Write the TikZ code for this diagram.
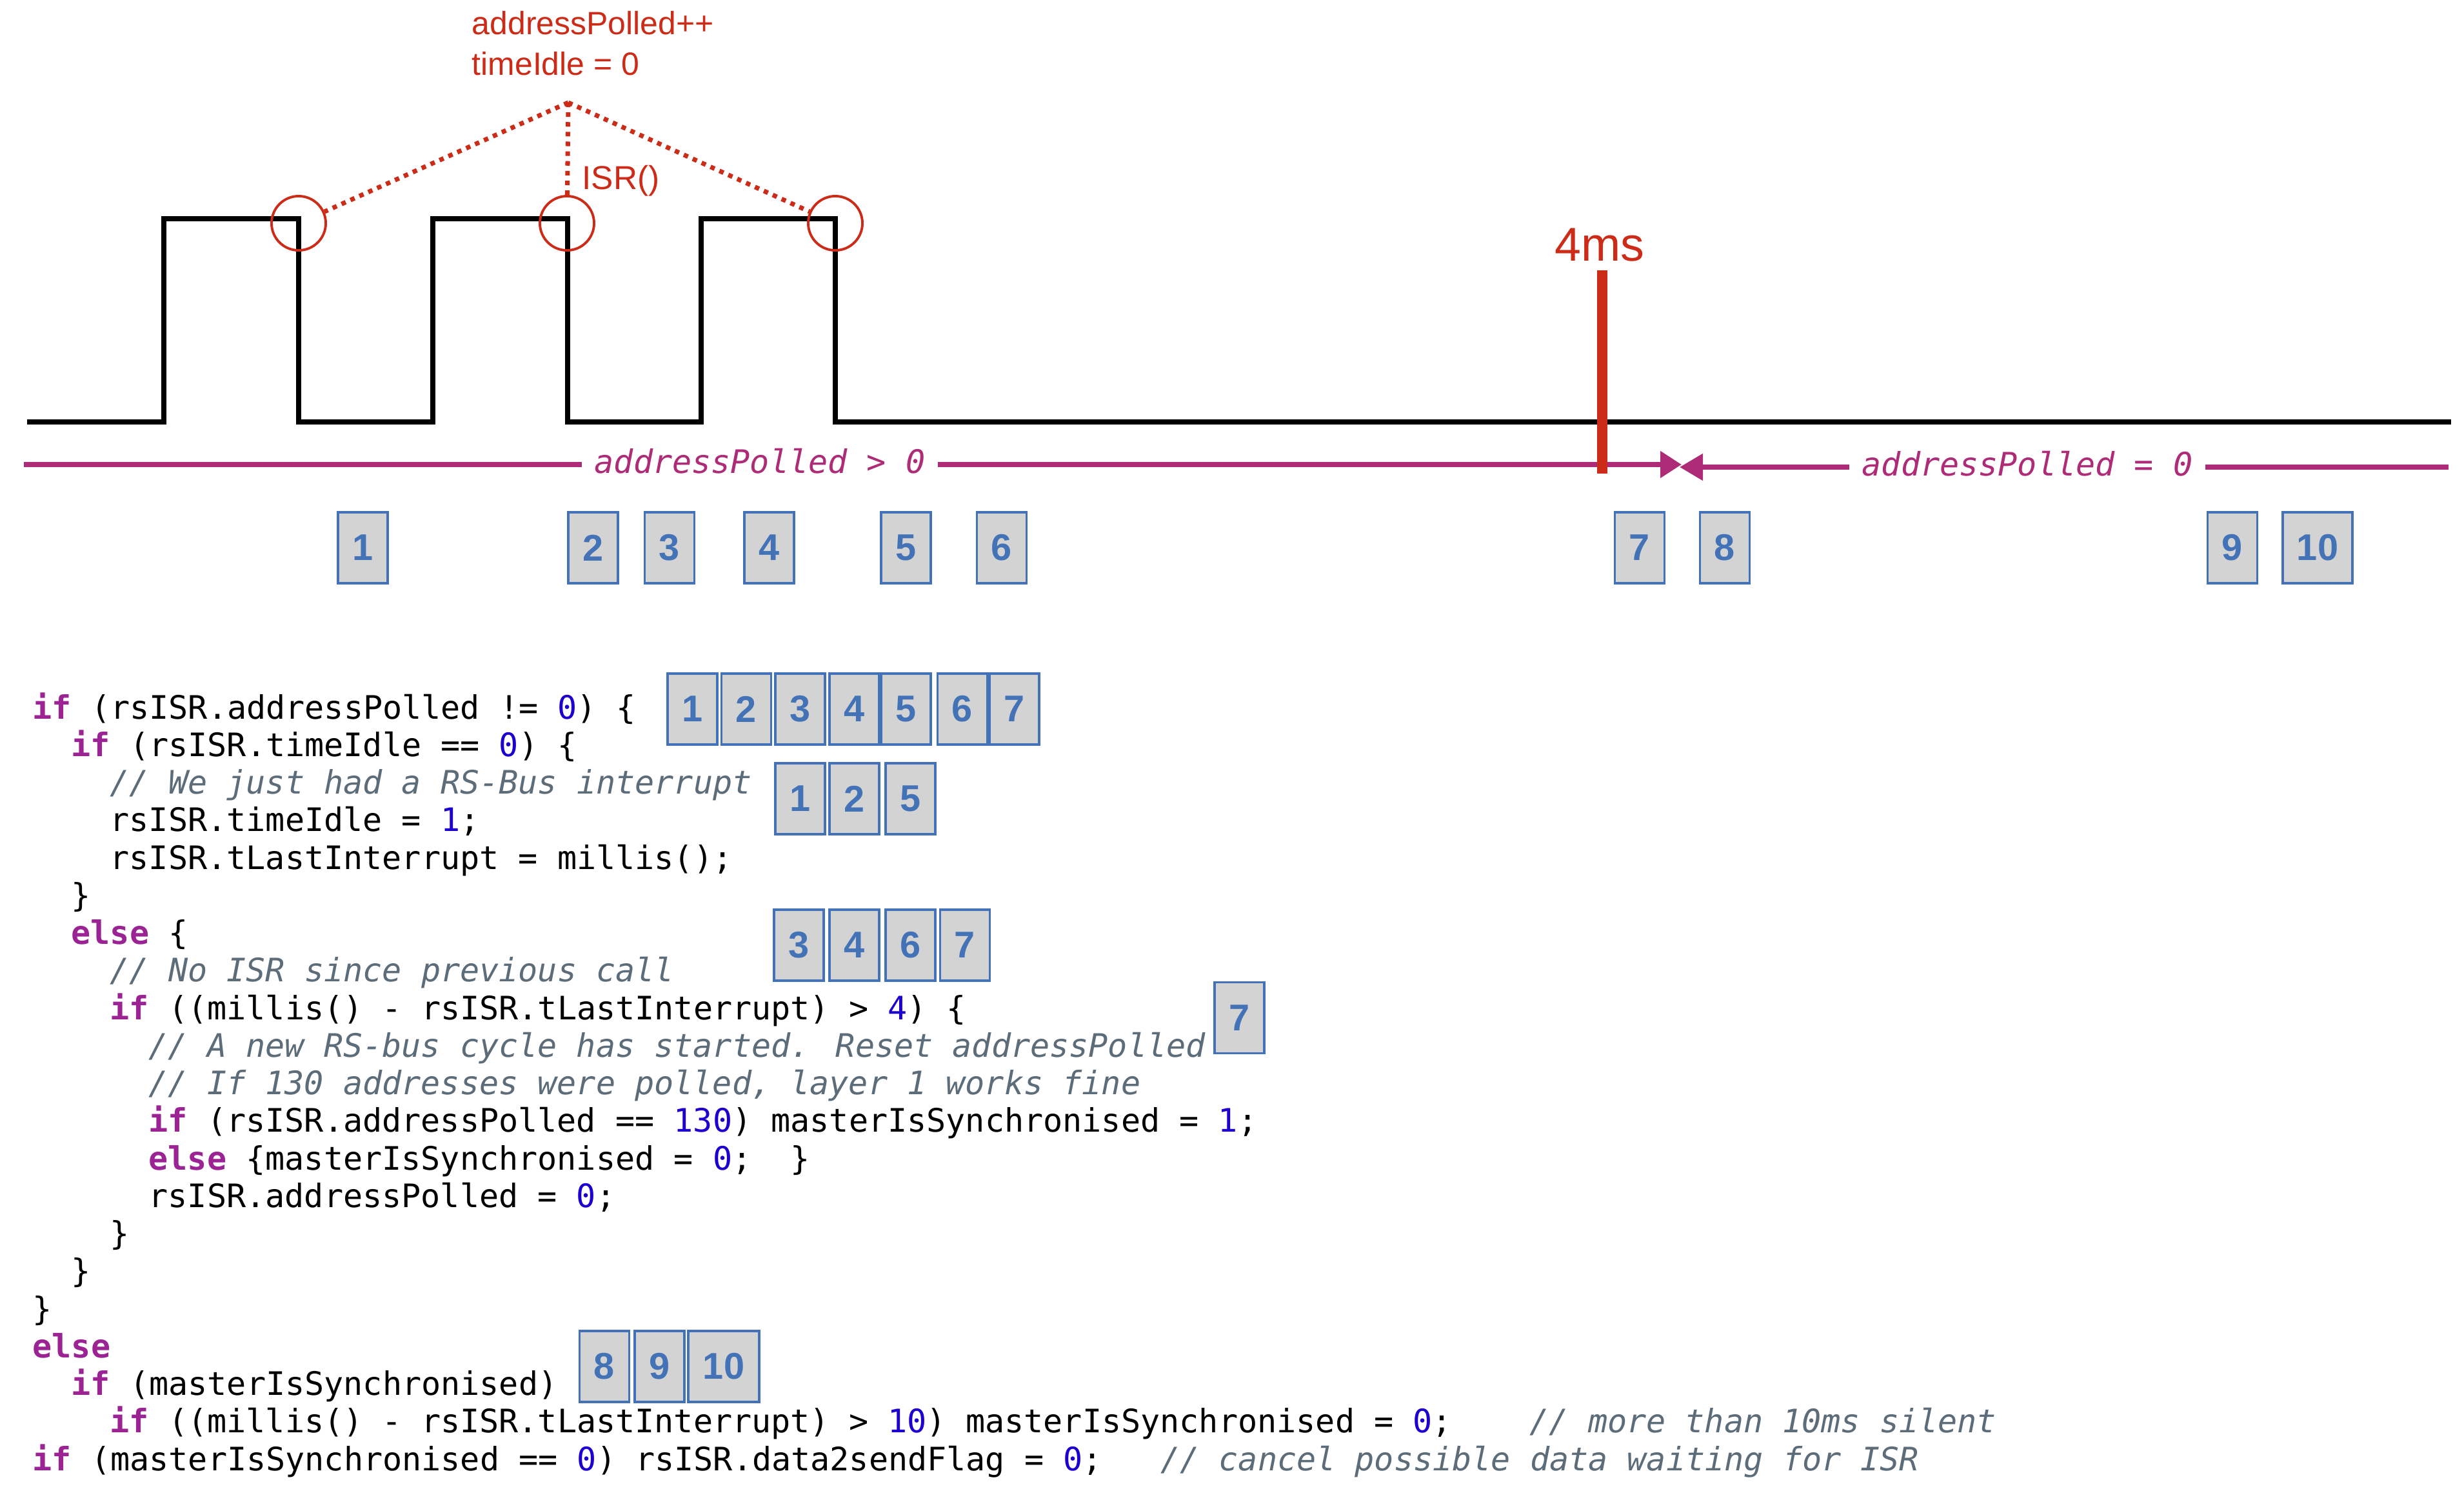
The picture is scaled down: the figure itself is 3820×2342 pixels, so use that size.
\documentclass[tikz,border=0pt]{standalone}
\usepackage{fontspec}
\setmainfont{Liberation Sans}
\newfontfamily\codefont{DejaVu Sans Mono}
\usetikzlibrary{arrows.meta}
\definecolor{sigred}{HTML}{CC2B17}
\definecolor{magc}{HTML}{AE2B78}
\definecolor{kwc}{HTML}{9B2393}
\definecolor{numc}{HTML}{1C00CF}
\definecolor{cmc}{HTML}{5D6C79}
\definecolor{boxb}{HTML}{4472B9}
\definecolor{boxf}{HTML}{D3D3D3}
\definecolor{numb}{HTML}{4373B6}
\newcommand\ckw[1]{{\bfseries\color{kwc}#1}}
\newcommand\cnum[1]{{\color{numc}#1}}
\newcommand\ccom[1]{{\itshape\color{cmc}#1}}
\tikzset{
  codeline/.style={anchor=base west, inner sep=0pt, font=\codefont\fontsize{14.24pt}{17pt}\selectfont},
  nbox/.style={draw=boxb, line width=1.1pt, fill=boxf, text=numb, font=\bfseries\fontsize{16.4pt}{16pt}\selectfont, minimum width=0.77cm, minimum height=1.10cm, inner sep=0pt},
  signal/.style={line width=2.1pt, line cap=rect, line join=miter},
  magline/.style={draw=magc, line width=2.28pt},
  maglabel/.style={anchor=base west, fill=white, inner xsep=0.2cm, inner ysep=1pt, text=magc, font=\codefont\itshape\fontsize{14.24pt}{17pt}\selectfont},
  redlabel/.style={anchor=base west, inner sep=0pt, text=sigred, font=\fontsize{14.2pt}{17pt}\selectfont},
  ring/.style={circle, draw=sigred, line width=1.1pt, minimum size=0.84cm, inner sep=0pt},
  dotline/.style={draw=sigred, line width=2pt, dash pattern=on 2pt off 2.3pt}
}
\begin{document}
\begin{tikzpicture}[x=0.01cm,y=-0.01cm]
\fill[white] (0,0) rectangle (3820,2342);
\useasboundingbox (0,0) rectangle (3820,2342);

% signal trace
\draw[signal] (46,654) -- (254,654) -- (254,339) -- (463,339) -- (463,654)
  -- (671,654) -- (671,339) -- (880,339) -- (880,654)
  -- (1087,654) -- (1087,339) -- (1295,339) -- (1295,654) -- (3796,654);

% ISR circles and dotted connectors
\node[ring] (c1) at (463,346) {};
\node[ring] (c2) at (879,346) {};
\node[ring] (c3) at (1295,346) {};
\coordinate (apex) at (881,159);
\draw[dotline] (apex) -- (c1);
\draw[dotline] (apex) -- (c3);
\draw[dotline] (apex) -- (c2);
\node[redlabel] (t1) at (731,54) {addressPolled++};
\node[redlabel] (t2) at (731,116) {timeIdle = 0};
\node[redlabel, font=\fontsize{14.6pt}{17pt}\selectfont] (isr) at (902,293) {ISR()};

% magenta state lines
\coordinate (mL0) at (37,720);
\coordinate (mL1) at (2607,720);
\coordinate (mR0) at (3796,724);
\coordinate (mR1) at (2604,724);
\draw[magline, -{Triangle[length=0.33cm,width=0.40cm]}] (mL0) -- (mL1);
\draw[magline, -{Triangle[length=0.36cm,width=0.40cm]}] (mR0) -- (mR1);
\node[maglabel] (ml1) at (901,733) {addressPolled > 0};
\node[maglabel] (ml2) at (2866,737) {addressPolled = 0};

% 4ms marker
\coordinate (r0) at (2484,419);
\coordinate (r1) at (2484,734);
\draw[draw=sigred, line width=4.8pt] (r0) -- (r1);
\node[anchor=base, inner sep=0pt, text=sigred, font=\fontsize{20.9pt}{22pt}\selectfont] (ms) at (2480,404) {4ms};

% timeline number boxes
\node[nbox] (b1) at (562.5,849) {1};
\node[nbox] (b2) at (919.5,849) {2};
\node[nbox] (b3) at (1038,849) {3};
\node[nbox] (b4) at (1192.5,849) {4};
\node[nbox] (b5) at (1404.5,849) {5};
\node[nbox] (b6) at (1553,849) {6};
\node[nbox] (b7) at (2542,849) {7};
\node[nbox] (b8) at (2674,849) {8};
\node[nbox] (b9) at (3461,849) {9};
\node[nbox, minimum width=1.08cm] (b10) at (3593,849) {10};

% code
\node[codeline] (l0) at (50,1114) {\ckw{if} (rsISR.addressPolled != \cnum{0}) \{};
\node[codeline] (l1) at (110,1172.25) {\ckw{if} (rsISR.timeIdle == \cnum{0}) \{};
\node[codeline] (l2) at (170,1230.5) {\ccom{// We just had a RS-Bus interrupt}};
\node[codeline] (l3) at (170,1288.75) {rsISR.timeIdle = \cnum{1};};
\node[codeline] (l4) at (170,1347) {rsISR.tLastInterrupt = millis();};
\node[codeline] (l5) at (110,1405.25) {\}};
\node[codeline] (l6) at (110,1463.5) {\ckw{else} \{};
\node[codeline] (l7) at (170,1521.75) {\ccom{// No ISR since previous call}};
\node[codeline] (l8) at (170,1580) {\ckw{if} ((millis() - rsISR.tLastInterrupt) > \cnum{4}) \{};
\node[codeline] (l9) at (230,1638.25) {\ccom{// A new RS-bus cycle has started. Reset addressPolled}};
\node[codeline] (l10) at (230,1696.5) {\ccom{// If 130 addresses were polled, layer 1 works fine}};
\node[codeline] (l11) at (230,1754.75) {\ckw{if} (rsISR.addressPolled == \cnum{130}) masterIsSynchronised = \cnum{1};};
\node[codeline] (l12) at (230,1813) {\ckw{else} \{masterIsSynchronised = \cnum{0};~~\}};
\node[codeline] (l13) at (230,1871.25) {rsISR.addressPolled = \cnum{0};};
\node[codeline] (l14) at (170,1929.5) {\}};
\node[codeline] (l15) at (110,1987.75) {\}};
\node[codeline] (l16) at (50,2046) {\}};
\node[codeline] (l17) at (50,2104.25) {\ckw{else}};
\node[codeline] (l18) at (110,2162.5) {\ckw{if} (masterIsSynchronised)};
\node[codeline] (l19) at (170,2220.75) {\ckw{if} ((millis() - rsISR.tLastInterrupt) > \cnum{10}) masterIsSynchronised = \cnum{0};~~~~\ccom{// more than 10ms silent}};
\node[codeline] (l20) at (50,2279) {\ckw{if} (masterIsSynchronised == \cnum{0}) rsISR.data2sendFlag = \cnum{0};~~~\ccom{// cancel possible data waiting for ISR}};

% code number boxes
\node[nbox] (a1) at (1073.5,1099) {1};
\node[nbox] (a2) at (1157,1099) {2};
\node[nbox] (a3) at (1240.5,1099) {3};
\node[nbox] (a4) at (1324.5,1099) {4};
\node[nbox] (a5) at (1404.5,1099) {5};
\node[nbox] (a6) at (1492,1099) {6};
\node[nbox] (a7) at (1572.5,1099) {7};

\node[nbox] (d1) at (1240.5,1238) {1};
\node[nbox] (d2) at (1324.5,1238) {2};
\node[nbox] (d5) at (1411.5,1238) {5};

\node[nbox] (e3) at (1238.5,1465) {3};
\node[nbox] (e4) at (1324.5,1465) {4};
\node[nbox] (e6) at (1411.5,1465) {6};
\node[nbox] (e7) at (1496,1465) {7};

\node[nbox] (f7) at (1921.5,1577.5) {7};

\node[nbox] (g8) at (937,2118) {8};
\node[nbox] (g9) at (1022.5,2118) {9};
\node[nbox, minimum width=1.10cm] (g10) at (1122,2118) {10};
\end{tikzpicture}
\end{document}
